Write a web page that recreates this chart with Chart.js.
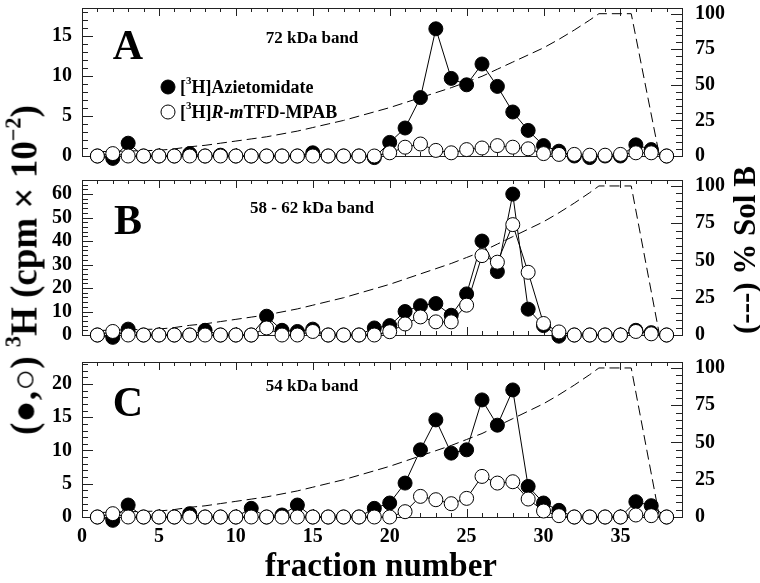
<!DOCTYPE html>
<html>
<head>
<meta charset="utf-8">
<script src="https://cdn.jsdelivr.net/npm/chart.js@4.4.0/dist/chart.umd.min.js"></script>
<style>
  body { margin: 0; background: #fff; }
  #wrap { position: relative; width: 760px; height: 583px; overflow: hidden; font-family: "Liberation Serif", serif; }
  canvas { position: absolute; left: 0; }
  .title { position: absolute; font-weight: bold; white-space: nowrap; color: #000; }
  .rot { transform: translate(-50%, -50%) rotate(-90deg); }
  sup { font-size: 60%; vertical-align: 0.7em; line-height: 0; }
</style>
</head>
<body>
<div id="wrap">
  <canvas id="chartA" width="760" height="172" style="top:0px"></canvas>
  <canvas id="chartB" width="760" height="175" style="top:172px"></canvas>
  <canvas id="chartC" width="760" height="236" style="top:347px"></canvas>
  <div class="title rot" style="left:24px; top:270px; font-size:37px;">(●,○) <sup>3</sup>H (cpm × 10<sup>−2</sup>)</div>
  <div class="title rot" style="left:745px; top:250px; font-size:31px;">(---) % Sol B</div>
  <div class="title" style="left:381px; top:565px; transform: translate(-50%, -50%); font-size:33px;">fraction number</div>
</div>
<script>
// fraction numbers shared by all three bands
const fractions = [1, 2, 3, 4, 5, 6, 7, 8, 9, 10, 11, 12, 13, 14, 15, 16, 17, 18, 19, 20,
                   21, 22, 23, 24, 25, 26, 27, 28, 29, 30, 31, 32, 33, 34, 35, 36, 37, 38];

// 72 kDa band
const aziA  = [0, -0.3, 1.6, 0, 0, 0, 0.3, 0, 0.1, 0, 0, 0, 0, 0, 0.4, 0, 0, 0, -0.2, 1.7,
               3.5, 7.3, 15.9, 9.7, 8.9, 11.5, 8.7, 5.5, 3.2, 1.3, 0.6, 0, -0.2, 0, 0, 1.4, 0.8, 0];
const mpabA = [0, 0.3, 0, 0, 0, 0, 0, 0, 0, 0, 0, 0, 0, 0, 0, 0, 0, 0, 0, 0.4,
               1.1, 1.5, 0.7, 0.4, 0.8, 1.0, 1.3, 1.1, 0.9, 0.3, 0.2, 0.2, 0.1, 0.1, 0.2, 0.4, 0.4, 0];

// 58 - 62 kDa band
const aziB  = [0, -1, 2.5, 0, 0, 0, 0, 2, 0, 0, 0, 8, 2, 1.5, 2.5, 0, 0, 0, 3, 4,
               10, 12.5, 13.4, 8.4, 17.5, 40, 27, 60, 11, 4, -0.5, 0, 0, 0, 0, 2, 1, 0];
const mpabB = [0, 1.5, 0, 0, 0, 0, 0, 0, 0, 0, 0, 3, 0, 0, 1.5, 0, 0, 0, 0, 1.4,
               4.7, 7.7, 5.6, 5.6, 12.7, 33.8, 31, 47, 26.7, 4.9, 1.3, 0, 0, 0, 0, 1.5, 0.5, 0];

// 54 kDa band
const aziC  = [0, -0.5, 1.8, 0, 0, 0, 0.5, 0, 0, 0, 1.3, 0, 0.3, 1.8, 0, 0, 0, 0, 1.3, 2.1,
               5.1, 10.1, 14.6, 9.6, 10.1, 17.6, 13.8, 19.1, 4.6, 2.1, 1.0, 0, 0, 0, 0, 2.3, 1.7, 0];
const mpabC = [0, 0.5, 0, 0, 0, 0, 0, 0, 0, 0, 0, 0, 0, 0, 0, 0, 0, 0, 0, 0,
               0.8, 3.1, 2.6, 2.0, 2.8, 6.1, 5.1, 5.3, 2.7, 0.9, 0.2, 0, 0, 0, 0, 0.3, 0.2, 0];

// % Sol B gradient (dashed line, right axis)
const gradX = [1, 5, 6, 7, 8, 9, 10, 11, 12, 13, 14, 15, 16, 17, 18, 19, 20, 21, 22, 23,
               24, 25, 26, 27, 28, 29, 30, 31, 32, 33, 33.6, 35.7, 37.5];
const gradY = [3, 4, 5, 6.5, 7.5, 9, 10.5, 12, 13.5, 15.5, 17.5, 20, 22.5, 25, 28, 31, 34, 37.5, 41, 44.5,
               48, 52, 56, 61, 66, 71, 76, 82, 88.5, 95.5, 100, 100, 2];

const FONT = '"Liberation Serif", serif';

function pts(xs, ys) {
    return xs.map((x, i) => ({ x: x, y: ys[i] }));
}

// box round the plot with inward tick marks on all four sides
const frameTicks = {
    id: 'frameTicks',
    beforeDatasetsDraw(chart, args, o) {
        const { ctx, chartArea: a, scales } = chart;
        ctx.save();
        ctx.strokeStyle = '#222';
        ctx.lineWidth = 1;
        ctx.strokeRect(a.left + 0.5, a.top + 0.5, a.width, a.height);
        ctx.beginPath();
        for (let v = 0; v <= 39; v++) {
            const px = Math.round(scales.x.getPixelForValue(v)) + 0.5;
            const len = v % 5 === 0 ? 8 : 4;
            ctx.moveTo(px, a.top); ctx.lineTo(px, a.top + len);
            ctx.moveTo(px, a.bottom); ctx.lineTo(px, a.bottom - len);
        }
        const yl = scales.y;
        for (let v = 0; v <= yl.max + 1e-9; v += o.yMinor) {
            const py = Math.round(yl.getPixelForValue(v)) + 0.5;
            const major = Math.abs(v / o.yMajor - Math.round(v / o.yMajor)) < 1e-6;
            ctx.moveTo(a.left, py); ctx.lineTo(a.left + (major ? 11 : 6), py);
        }
        const yr = scales.y2;
        for (let v = 0; v <= yr.max + 1e-9; v += 5) {
            const py = Math.round(yr.getPixelForValue(v)) + 0.5;
            ctx.moveTo(a.right, py); ctx.lineTo(a.right - (v % 25 === 0 ? 11 : 6), py);
        }
        ctx.stroke();
        ctx.restore();
    }
};

function drawRuns(ctx, x, y, runs) {
    runs.forEach(r => {
        ctx.font = r.f;
        ctx.fillText(r.t, x, y + (r.dy || 0));
        x += ctx.measureText(r.t).width;
    });
}

// panel letter, band name and (panel A only) the legend
const panelText = {
    id: 'panelText',
    afterDraw(chart, args, o) {
        const { ctx, chartArea: a } = chart;
        ctx.save();
        ctx.fillStyle = '#000';
        ctx.textAlign = 'center';
        ctx.textBaseline = 'middle';
        ctx.font = 'bold 42px ' + FONT;
        ctx.fillText(o.letter, a.left + 46, a.top + o.letterDy);
        ctx.font = 'bold 17px ' + FONT;
        ctx.fillText(o.band, a.left + 230, a.top + o.bandDy);
        if (o.legend) {
            const b = 'bold 18px ' + FONT, bi = 'italic bold 18px ' + FONT, s = 'bold 11px ' + FONT;
            ctx.textAlign = 'left';
            ctx.lineWidth = 1;
            ctx.strokeStyle = '#000';
            ctx.beginPath(); ctx.arc(a.left + 86, a.top + 79, 7, 0, Math.PI * 2);
            ctx.fillStyle = '#000'; ctx.fill(); ctx.stroke();
            ctx.beginPath(); ctx.arc(a.left + 86, a.top + 104, 7, 0, Math.PI * 2);
            ctx.fillStyle = '#fff'; ctx.fill(); ctx.stroke();
            ctx.fillStyle = '#000';
            drawRuns(ctx, a.left + 98, a.top + 80, [
                { t: '[', f: b }, { t: '3', f: s, dy: -7 }, { t: 'H]Azietomidate', f: b }
            ]);
            drawRuns(ctx, a.left + 98, a.top + 105, [
                { t: '[', f: b }, { t: '3', f: s, dy: -7 }, { t: 'H]', f: b },
                { t: 'R', f: bi }, { t: '-', f: b }, { t: 'm', f: bi }, { t: 'TFD-MPAB', f: b }
            ]);
        }
        ctx.restore();
    }
};

function makePanel(id, azi, mpab, p) {
    const tickFont = { family: FONT, size: 20, weight: 'bold' };
    return new Chart(document.getElementById(id), {
        type: 'line',
        data: {
            datasets: [
                {
                    label: '[3H]R-mTFD-MPAB',
                    data: pts(fractions, mpab),
                    yAxisID: 'y',
                    borderColor: '#000',
                    borderWidth: 1,
                    pointRadius: 7,
                    pointBorderWidth: 1,
                    pointBorderColor: '#000',
                    pointBackgroundColor: '#fff',
                    clip: false
                },
                {
                    label: '[3H]Azietomidate',
                    data: pts(fractions, azi),
                    yAxisID: 'y',
                    borderColor: '#000',
                    borderWidth: 1,
                    pointRadius: 7,
                    pointBorderWidth: 1,
                    pointBorderColor: '#000',
                    pointBackgroundColor: '#000',
                    clip: false
                },
                {
                    label: '% Sol B',
                    data: pts(gradX, gradY),
                    yAxisID: 'y2',
                    borderColor: '#000',
                    borderWidth: 1,
                    borderDash: [10, 5],
                    pointRadius: 0,
                    clip: false
                }
            ]
        },
        options: {
            responsive: false,
            animation: false,
            events: [],
            layout: { padding: { top: p.padTop, bottom: p.padBottom, left: 0, right: 0 } },
            plugins: {
                legend: { display: false },
                tooltip: { enabled: false },
                panelText: { letter: p.letter, letterDy: p.letterDy, band: p.band, bandDy: p.bandDy, legend: p.legend },
                frameTicks: { yMajor: p.yStep, yMinor: p.yMinor }
            },
            scales: {
                x: {
                    type: 'linear',
                    min: 0,
                    max: 39,
                    display: p.showX,
                    grid: { display: false, drawTicks: false },
                    border: { display: false },
                    ticks: { stepSize: 5, includeBounds: false, autoSkip: false, font: tickFont, color: '#000', padding: 8, maxRotation: 0 },
                    afterFit(s) {
                        s.height = p.showX ? 66 : 0;
                        s.paddingLeft = 0;
                        s.paddingRight = 0;
                    }
                },
                y: {
                    position: 'left',
                    min: 0,
                    max: p.yMax,
                    grid: { display: false, drawTicks: false },
                    border: { display: false },
                    ticks: { stepSize: p.yStep, includeBounds: false, autoSkip: false, font: tickFont, color: '#000', padding: 10 },
                    afterFit(s) { s.width = 82; s.paddingTop = 0; s.paddingBottom = 0; }
                },
                y2: {
                    position: 'right',
                    min: 0,
                    max: 104,
                    grid: { display: false, drawTicks: false },
                    border: { display: false },
                    ticks: { stepSize: 25, includeBounds: false, autoSkip: false, font: tickFont, color: '#000', padding: 13 },
                    afterFit(s) { s.width = 78; s.paddingTop = 0; s.paddingBottom = 0; }
                }
            }
        },
        plugins: [frameTicks, panelText]
    });
}

makePanel('chartA', aziA, mpabA, {
    padTop: 2, padBottom: 16, showX: false, yMax: 18.5, yStep: 5, yMinor: 1,
    letter: 'A', letterDy: 40, band: '72 kDa band', bandDy: 31, legend: true
});
makePanel('chartB', aziB, mpabB, {
    padTop: 7, padBottom: 12, showX: false, yMax: 66, yStep: 10, yMinor: 2,
    letter: 'B', letterDy: 43, band: '58 - 62 kDa band', bandDy: 29, legend: false
});
makePanel('chartC', aziC, mpabC, {
    padTop: 15, padBottom: 0, showX: true, yMax: 23.3, yStep: 5, yMinor: 1,
    letter: 'C', letterDy: 43, band: '54 kDa band', bandDy: 25, legend: false
});
</script>
</body>
</html>
